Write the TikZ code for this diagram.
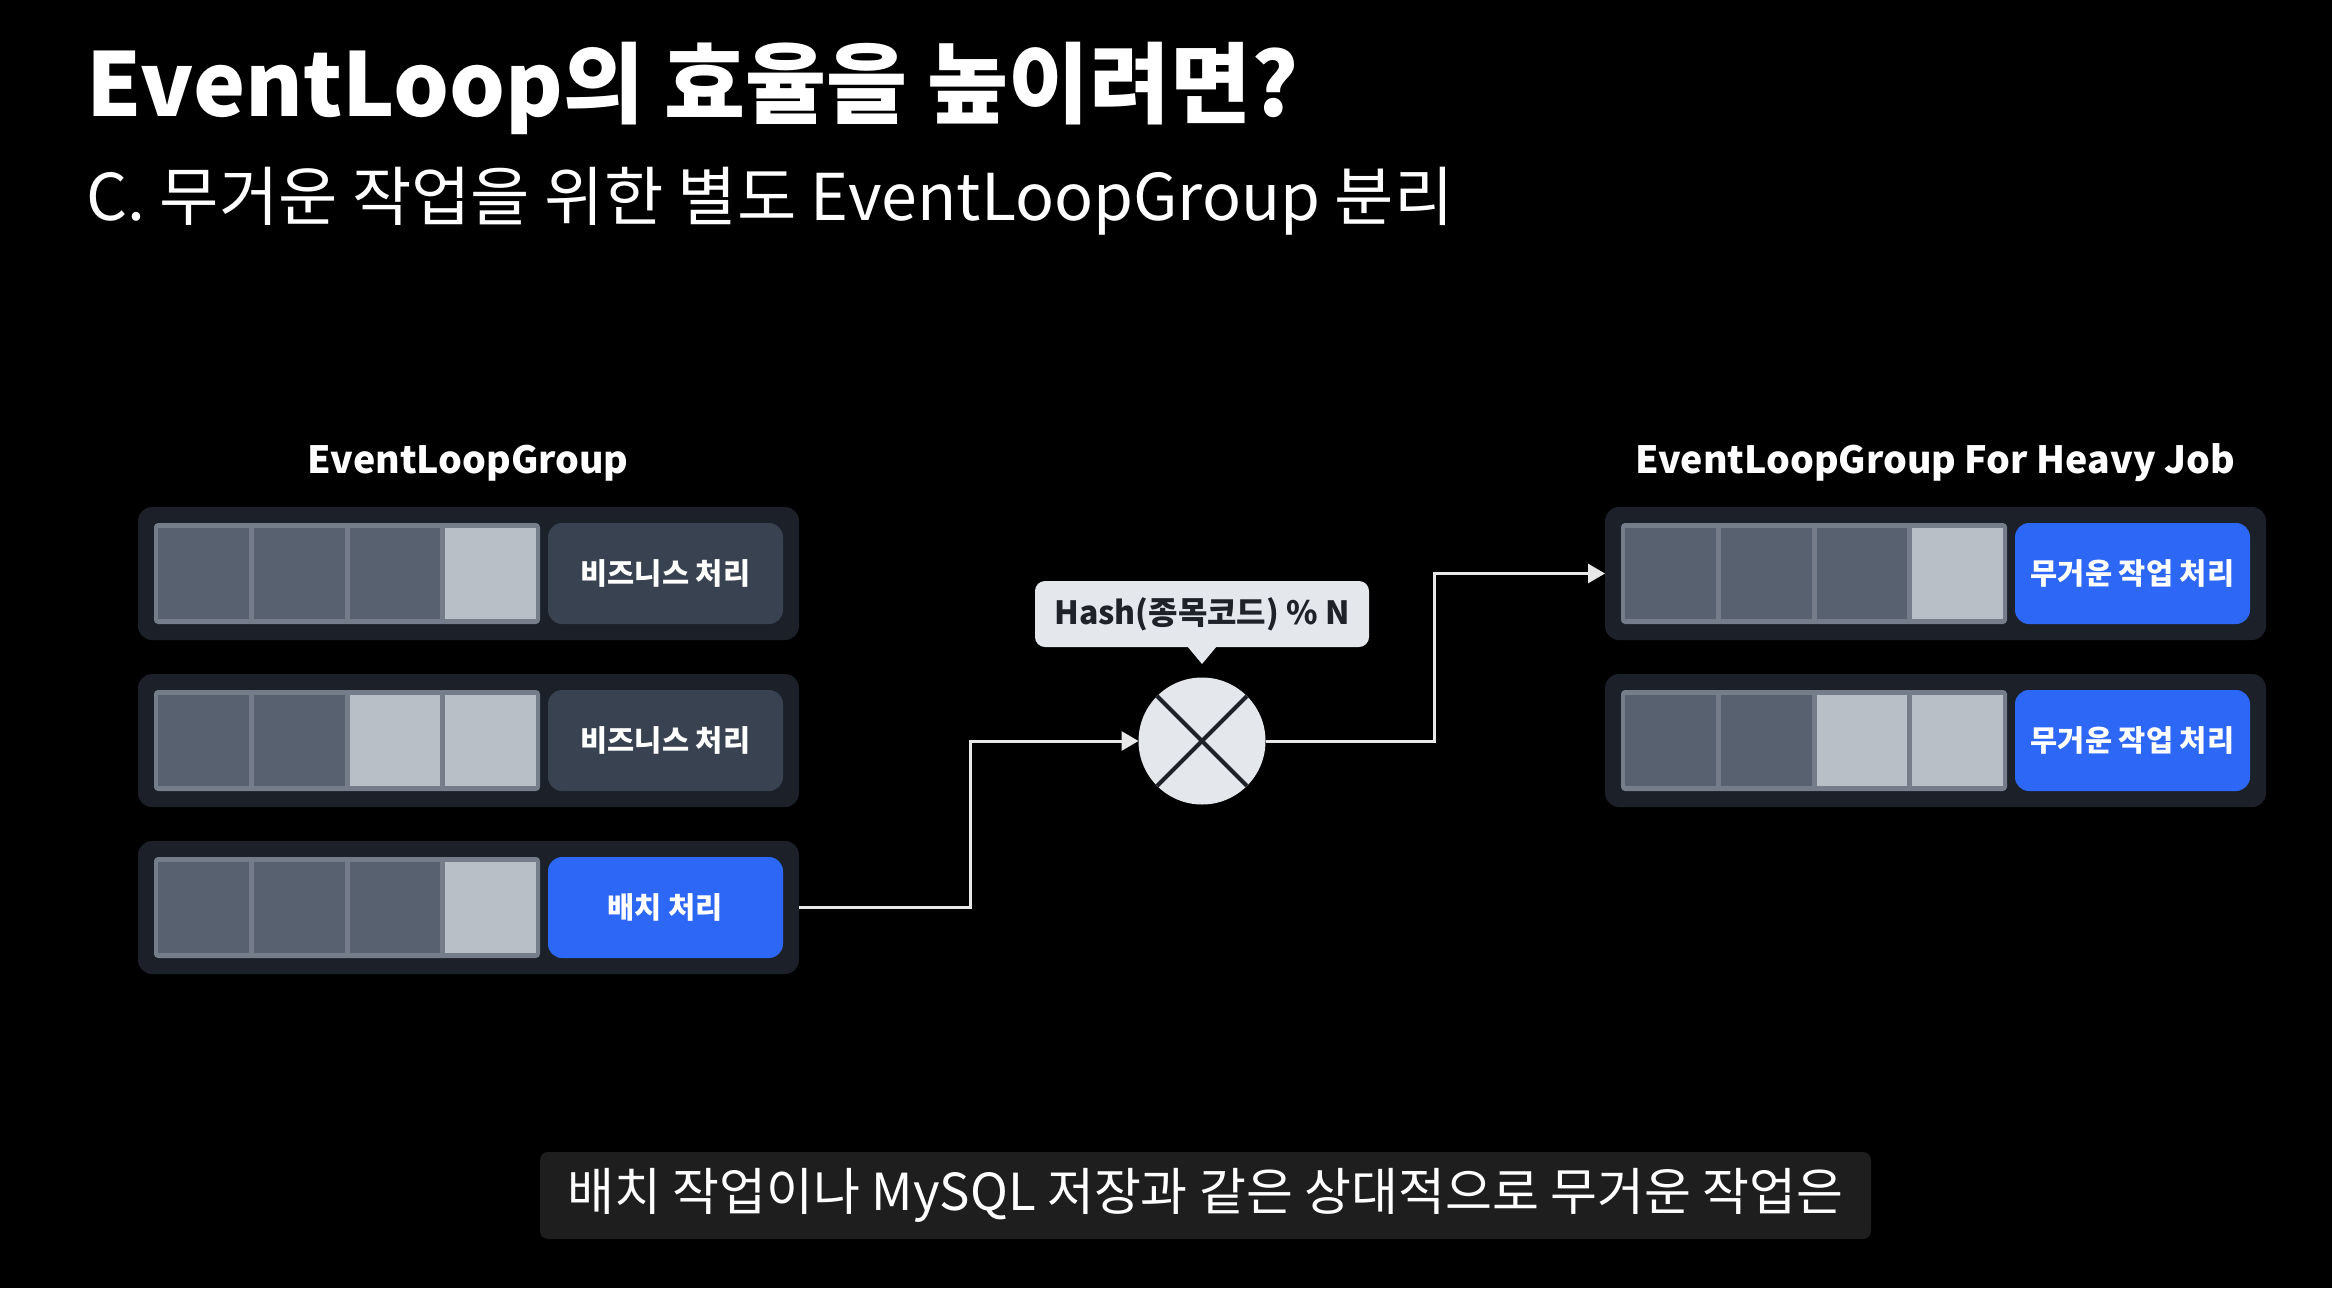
\documentclass[tikz,border=0pt]{standalone}
\usepackage{fontspec}
\setmainfont{Noto Sans CJK KR}
\usetikzlibrary{calc,arrows.meta}
\definecolor{outerc}{RGB}{27,32,41}
\definecolor{stripc}{RGB}{116,125,137}
\definecolor{darkc}{RGB}{87,97,112}
\definecolor{lightc}{RGB}{184,191,199}
\definecolor{grayc}{RGB}{57,66,80}
\definecolor{bluec}{RGB}{45,103,246}
\definecolor{circc}{RGB}{228,231,235}
\definecolor{xc}{RGB}{31,35,41}
\definecolor{arrowc}{RGB}{232,232,232}
\definecolor{capc}{RGB}{30,30,30}
\tikzset{
  outerbox/.style={fill=outerc, rounded corners=14pt, minimum width=661pt, minimum height=133pt, inner sep=0pt, outer sep=0pt, anchor=north west},
  stripbox/.style={fill=stripc, rounded corners=4pt, minimum width=386pt, minimum height=101pt, inner sep=0pt, outer sep=0pt, anchor=north west},
  cellbox/.style={fill=#1, minimum width=90.75pt, minimum height=91pt, inner sep=0pt, outer sep=0pt, anchor=north west},
  lblbox/.style={fill=#1, rounded corners=14pt, minimum width=235pt, minimum height=101pt, inner sep=0pt, outer sep=0pt, anchor=north west, text=white, font=\fontsize{29.5}{35}\selectfont\bfseries},
  headtext/.style={anchor=base, inner sep=0pt, text=white, font=\fontsize{37.5}{45}\selectfont\bfseries},
  conn/.style={draw=arrowc, line width=3pt, -{Triangle[length=17pt,width=19pt]}},
  xline/.style={draw=xc, line width=4pt},
}
\newcommand\slotrow[9]{%
  \node[outerbox] (#1) at (#2,#3) {};
  \node[stripbox] (#1s) at ({#2+16},{#3+16}) {};
  \node[cellbox=#4] (#1a) at ({#2+20},{#3+21}) {};
  \node[cellbox=#5] (#1b) at ({#2+115.75},{#3+21}) {};
  \node[cellbox=#6] (#1c) at ({#2+211.5},{#3+21}) {};
  \node[cellbox=#7] (#1d) at ({#2+307.25},{#3+21}) {};
  \node[lblbox=#8] (#1l) at ({#2+410},{#3+16}) {#9};
}
\begin{document}
\begin{tikzpicture}[x=1pt,y=-1pt]
\fill[black] (0,0) rectangle (2332,1288);
\useasboundingbox (0,0) rectangle (2332,1288);

\node[anchor=base west, inner sep=0pt, text=white, font=\fontsize{88}{100}\selectfont\bfseries] (title) at (86,116) {EventLoop의 효율을 높이려면?};
\node[anchor=base west, inner sep=0pt, text=white, font=\fontsize{64.5}{72}\selectfont] (subtitle) at (86,220) {C. 무거운 작업을 위한 별도 EventLoopGroup 분리};

\node[headtext] (hl) at (468,473) {EventLoopGroup};
\node[headtext] (hr) at (1935,473) {EventLoopGroup For Heavy Job};

\slotrow{L1}{138}{507}{darkc}{darkc}{darkc}{lightc}{grayc}{비즈니스 처리}
\slotrow{L2}{138}{674}{darkc}{darkc}{lightc}{lightc}{grayc}{비즈니스 처리}
\slotrow{L3}{138}{841}{darkc}{darkc}{darkc}{lightc}{bluec}{배치 처리}
\slotrow{R1}{1605}{507}{darkc}{darkc}{darkc}{lightc}{bluec}{무거운 작업 처리}
\slotrow{R2}{1605}{674}{darkc}{darkc}{lightc}{lightc}{bluec}{무거운 작업 처리}

\node[circle, fill=circc, minimum size=127pt, inner sep=0pt, outer sep=0pt] (hash) at (1202,741) {};
\draw[xline] (hash.north west) -- (hash.south east);
\draw[xline] (hash.north east) -- (hash.south west);

\node[fill=circc, rounded corners=10pt, minimum width=334pt, minimum height=66pt, inner sep=0pt, outer sep=0pt, text=xc, font=\fontsize{32}{38}\selectfont\bfseries] (call) at (1202,614) {Hash(종목코드) \% N};
\fill[circc] ($(call.south)+(-15,-1)$) -- ($(call.south)+(0,17)$) -- ($(call.south)+(15,-1)$) -- cycle;

\draw[conn] (L3.east) -- ++(171,0) |- (hash.west);
\draw[conn] (hash.east) -- ++(169,0) |- (R1.west);

\node[fill=capc, rounded corners=8pt, minimum width=1331pt, minimum height=87pt, inner sep=0pt, text=white, font=\fontsize{51}{60}\selectfont] (cap) at (1205.5,1195.5) {배치 작업이나 MySQL 저장과 같은 상대적으로 무거운 작업은};
\end{tikzpicture}
\end{document}
